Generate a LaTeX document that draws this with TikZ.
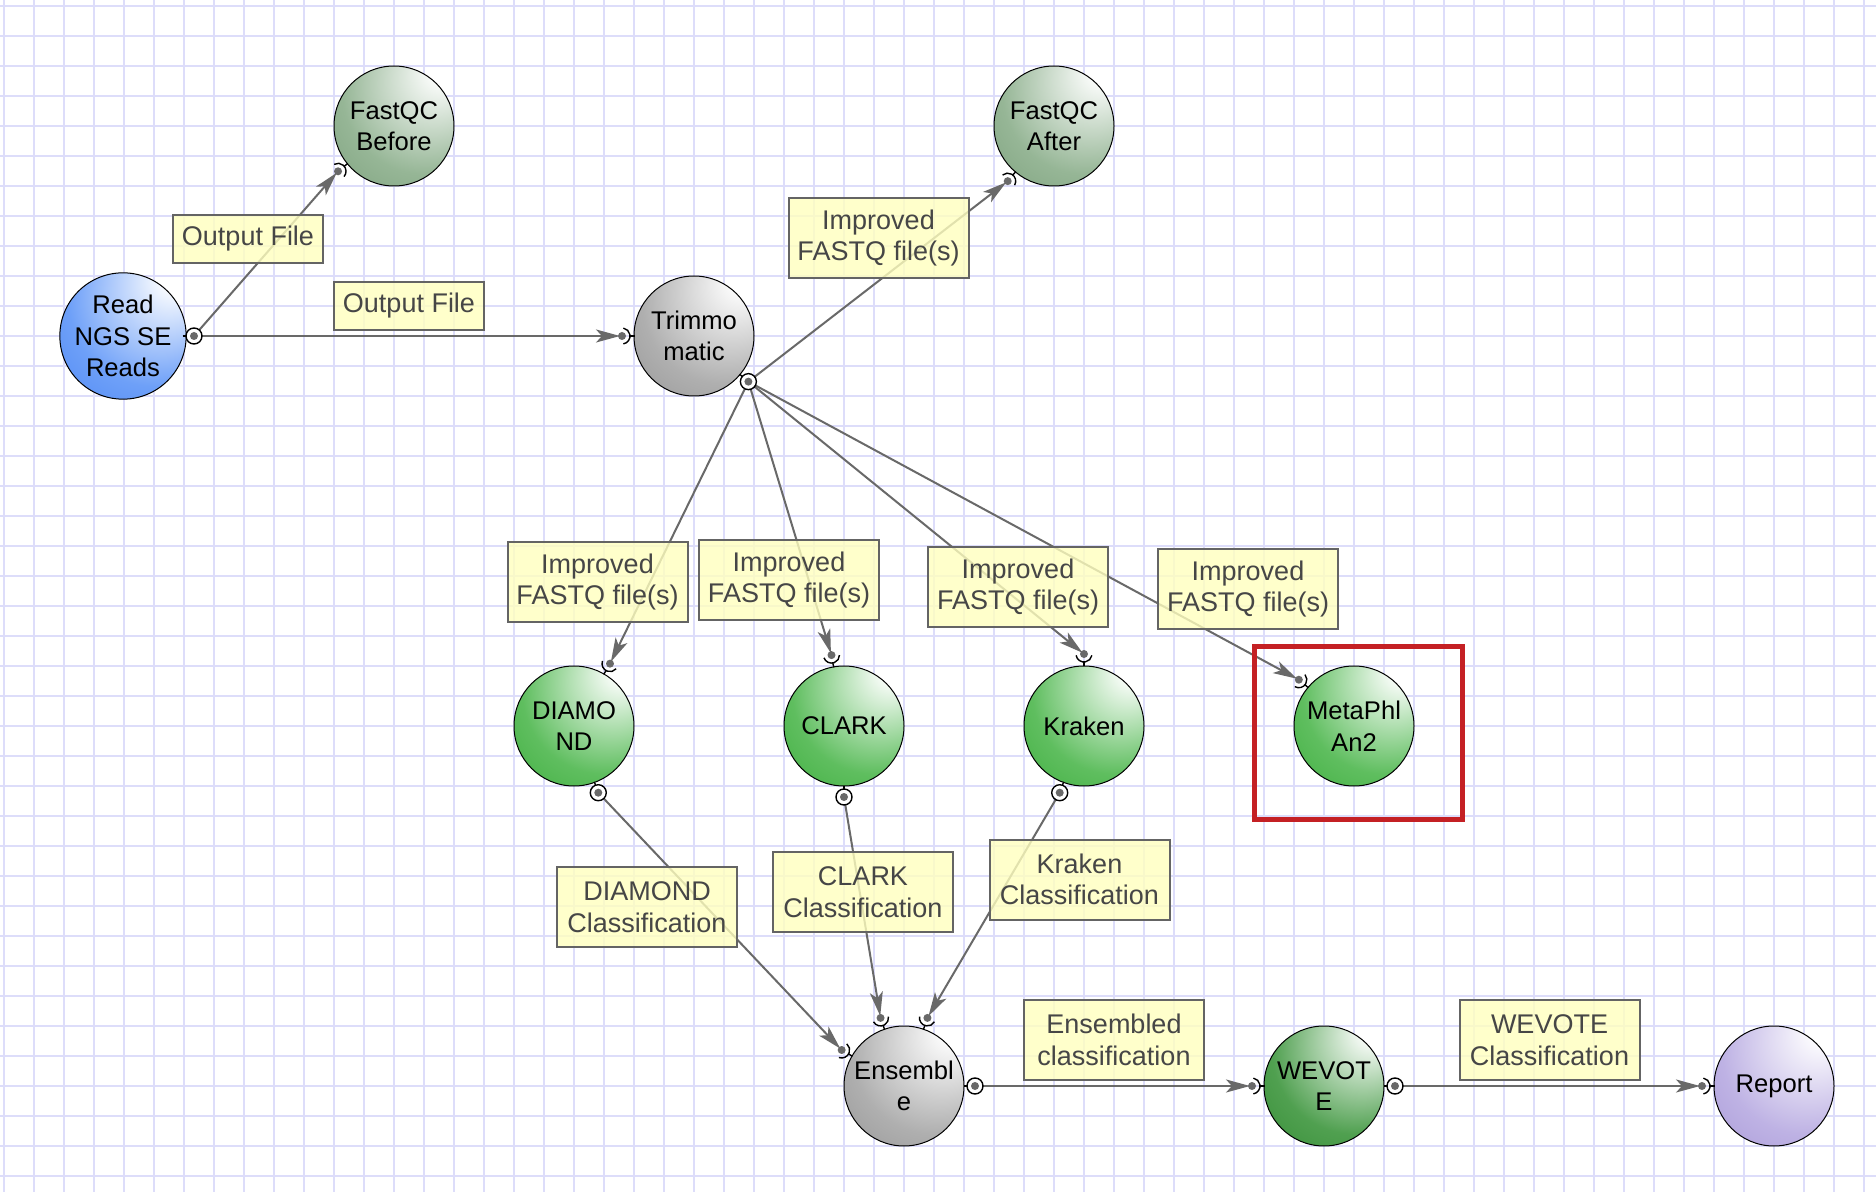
\documentclass[tikz,border=0pt]{standalone}
\usepackage{fontspec}
\setmainfont{Liberation Sans}
\usetikzlibrary{arrows.meta,calc}

\definecolor{gridc}{RGB}{221,221,250}
\definecolor{edgec}{RGB}{105,105,105}
\definecolor{labfill}{RGB}{255,255,190}
\definecolor{labdraw}{RGB}{100,100,100}
\definecolor{labtext}{RGB}{70,70,70}
\definecolor{hlred}{RGB}{196,32,36}

\definecolor{blueM}{RGB}{110,160,248}\definecolor{blueD}{RGB}{30,100,238}
\definecolor{fqM}{RGB}{150,182,150}\definecolor{fqD}{RGB}{88,130,88}
\definecolor{grayM}{RGB}{175,175,175}\definecolor{grayD}{RGB}{112,112,112}
\definecolor{greenM}{RGB}{95,190,95}\definecolor{greenD}{RGB}{12,150,12}
\definecolor{wevM}{RGB}{80,160,80}\definecolor{wevD}{RGB}{12,112,12}
\definecolor{repM}{RGB}{190,178,228}\definecolor{repD}{RGB}{140,120,198}

\newcommand\mkball[3]{\pgfdeclareradialshading{#1}{\pgfpoint{22bp}{25bp}}{color(0bp)=(white); color(4bp)=(white); color(34bp)=(#2); color(78bp)=(#3)}}
\mkball{shread}{blueM}{blueD}
\mkball{shfq}{fqM}{fqD}
\mkball{shgray}{grayM}{grayD}
\mkball{shgreen}{greenM}{greenD}
\mkball{shwev}{wevM}{wevD}
\mkball{shrep}{repM}{repD}

\tikzset{
  ball/.style={circle, draw=black, line width=0.5pt, minimum size=60pt, inner sep=0pt,
    align=center, font=\fontsize{12.8pt}{15.8pt}\selectfont, text=black},
  lab/.style={rectangle, draw=labdraw, line width=1pt, fill=labfill, fill opacity=0.8,
    text opacity=1, text=labtext, align=center, inner sep=0pt,
    font=\fontsize{13.5pt}{15.8pt}\selectfont},
  labtwo/.style={lab, minimum width=90pt, minimum height=40pt},
  labone/.style={lab, minimum width=75pt, minimum height=24pt},
  edge/.style={draw=edgec, line width=1pt, -{Stealth[length=12pt, width=6.5pt, inset=3pt]}, shorten >=1pt},
  portline/.style={draw=black, line width=0.7pt},
  highlight/.style={rectangle, draw=hlred, line width=2.5pt, inner sep=0pt},
}

\newcommand\drawout[2]{%
  \draw[portline] ($(#1.center)+(#2:59.5)$) -- ($(#1.center)+(#2:63)$);
  \draw[portline, fill=white] ($(#1.center)+(#2:71)$) circle[radius=4pt];
  \fill[edgec] ($(#1.center)+(#2:71)$) circle[radius=2pt];
}
\newcommand\drawin[2]{%
  \draw[portline] ($(#1.center)+(#2:59.5)$) -- ($(#1.center)+(#2:64)$);
  \draw[portline] ($(#1.center)+(#2:72)+({#2+100}:8)$) arc[start angle={#2+100}, end angle={#2+260}, radius=4pt];
  \fill[edgec] ($(#1.center)+(#2:72)$) circle[radius=2pt];
}

\begin{document}
\begin{tikzpicture}[x=0.5pt, y=0.5pt]
  \useasboundingbox (0,0) rectangle (1876,-1192);
  \fill[white] (0,0) rectangle (1876,-1192);
  \begin{scope}
    \clip (0,0) rectangle (1876,-1192);
    \foreach \gx in {4,34,...,1876} \draw[gridc, line width=0.9pt] (\gx,0) -- (\gx,-1192);
    \foreach \gy in {6,36,...,1192} \draw[gridc, line width=0.9pt] (0,-\gy) -- (1876,-\gy);
  \end{scope}

  % nodes
  \node[ball, shading=shread] (read) at (123,-336) {Read\\NGS SE\\Reads};
  \node[ball, shading=shfq] (fqb) at (394,-126) {FastQC\\Before};
  \node[ball, shading=shfq] (fqa) at (1054,-126) {FastQC\\After};
  \node[ball, shading=shgray] (trim) at (694,-336) {Trimmo\\matic};
  \node[ball, shading=shgreen] (diamond) at (574,-726) {DIAMO\\ND};
  \node[ball, shading=shgreen] (clark) at (844,-726) {CLARK};
  \node[ball, shading=shgreen] (kraken) at (1084,-726) {Kraken};
  \node[ball, shading=shgreen] (meta) at (1354,-726) {MetaPhl\\An2};
  \node[ball, shading=shgray] (ens) at (904,-1086) {Ensembl\\e};
  \node[ball, shading=shwev] (wev) at (1324,-1086) {WEVOT\\E};
  \node[ball, shading=shrep] (rep) at (1774,-1086) {Report};

  % ports
  \coordinate (readO) at ($(read.center)+(0:71)$);
  \coordinate (trimI) at ($(trim.center)+(180:72)$);
  \coordinate (fqbI) at ($(fqb.center)+(219:72)$);
  \coordinate (fqaI) at ($(fqa.center)+(230:72)$);
  \coordinate (trimO) at ($(trim.center)+(320:71)$);
  \coordinate (diamondI) at ($(diamond.center)+(60:72)$);
  \coordinate (clarkI) at ($(clark.center)+(100:72)$);
  \coordinate (krakenI) at ($(kraken.center)+(90:72)$);
  \coordinate (metaI) at ($(meta.center)+(140:72)$);
  \coordinate (diamondO) at ($(diamond.center)+(290:71)$);
  \coordinate (clarkO) at ($(clark.center)+(270:71)$);
  \coordinate (krakenO) at ($(kraken.center)+(250:71)$);
  \coordinate (ensIa) at ($(ens.center)+(150:72)$);
  \coordinate (ensIb) at ($(ens.center)+(109:72)$);
  \coordinate (ensIc) at ($(ens.center)+(71:72)$);
  \coordinate (ensO) at ($(ens.center)+(0:71)$);
  \coordinate (wevI) at ($(wev.center)+(180:72)$);
  \coordinate (wevO) at ($(wev.center)+(0:71)$);
  \coordinate (repI) at ($(rep.center)+(180:72)$);

  % edges
  \draw[edge] (readO) -- (trimI);
  \draw[edge] (readO) -- (fqbI);
  \draw[edge] (trimO) -- (fqaI);
  \draw[edge] (trimO) -- (diamondI);
  \draw[edge] (trimO) -- (clarkI);
  \draw[edge] (trimO) -- (krakenI);
  \draw[edge] (trimO) -- (metaI);
  \draw[edge] (diamondO) -- (ensIa);
  \draw[edge] (clarkO) -- (ensIb);
  \draw[edge] (krakenO) -- (ensIc);
  \draw[edge] (ensO) -- (wevI);
  \draw[edge] (wevO) -- (repI);

  % labels
  \node[labone] (l1) at (248,-239) {Output File};
  \node[labone] (l2) at (409,-306) {Output File};
  \node[labtwo] (l3) at (878.5,-238) {Improved\\FASTQ file(s)};
  \node[labtwo] (l4) at (597.5,-582) {Improved\\FASTQ file(s)};
  \node[labtwo] (l5) at (789,-580) {Improved\\FASTQ file(s)};
  \node[labtwo] (l6) at (1018,-587) {Improved\\FASTQ file(s)};
  \node[labtwo] (l7) at (1248,-589) {Improved\\FASTQ file(s)};
  \node[labtwo] (l8) at (647,-907) {DIAMOND\\Classification};
  \node[labtwo] (l9) at (863,-892) {CLARK\\Classification};
  \node[labtwo] (l10) at (1079.5,-879.5) {Kraken\\Classification};
  \node[labtwo] (l11) at (1114,-1040) {Ensembled\\classification};
  \node[labtwo] (l12) at (1549.5,-1040) {WEVOTE\\Classification};

  % port symbols
  \drawout{read}{0}
  \drawin{trim}{180}
  \drawin{fqb}{219}
  \drawin{fqa}{230}
  \drawout{trim}{320}
  \drawin{diamond}{60}
  \drawin{clark}{100}
  \drawin{kraken}{90}
  \drawin{meta}{140}
  \drawout{diamond}{290}
  \drawout{clark}{270}
  \drawout{kraken}{250}
  \drawin{ens}{150}
  \drawin{ens}{109}
  \drawin{ens}{71}
  \drawout{ens}{0}
  \drawin{wev}{180}
  \drawout{wev}{0}
  \drawin{rep}{180}

  % highlight box
  \node[highlight, minimum width=104pt, minimum height=86.25pt] (hl) at (1358,-732.75) {};
\end{tikzpicture}
\end{document}
